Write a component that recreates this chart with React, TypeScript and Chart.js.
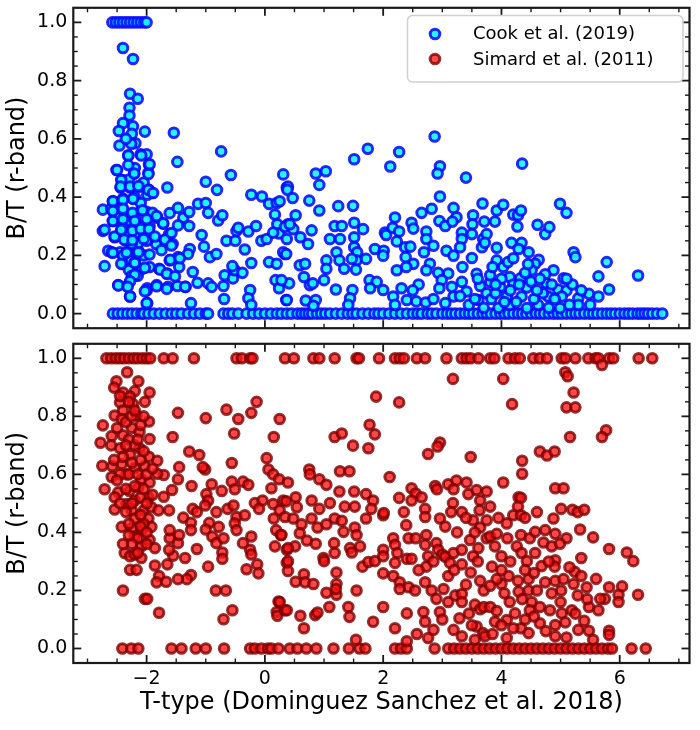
import { useEffect, useRef } from 'react';
import { Chart, registerables } from 'chart.js';

Chart.register(...registerables);

const FONT = '"DejaVu Sans", sans-serif';

// axis ranges / ticks
const xRange = [-3.24, 7.18];
const yRange = [-0.05, 1.05];
const xTickValues = [-2, 0, 2, 4, 6];
const xTickLabels = ['\u22122', '0', '2', '4', '6'];
const yTickValues = [0, 0.2, 0.4, 0.6, 0.8, 1.0];
const yTickLabels = ['0.0', '0.2', '0.4', '0.6', '0.8', '1.0'];

// ---- Cook et al. (2019): T-type values where B/T sits at 1 or 0
const cookOneT = [-2.58, -2.52, -2.46, -2.4, -2.34, -2.28, -2.22, -2.16, -2.1, -2.04, -2.0];
const cookZeroT = [
  -2.57, -2.49, -2.41, -2.33, -2.25, -2.17, -2.09, -2.05, -1.97, -1.88, -1.78, -1.68, -1.58, -1.5, -1.41,
  -1.3, -1.2, -1.1, -1.0, -0.96, -0.7, -0.62, -0.55, -0.45, -0.31, -0.2, -0.1, 0.0, 0.1, 0.2, 0.28, 0.37,
  0.45, 0.55, 0.62, 0.68, 0.74, 0.8, 0.88, 0.95, 1.02, 1.1, 1.2, 1.3, 1.4, 1.48, 1.55, 1.65, 1.75, 1.85,
  1.92, 2.0, 2.1, 2.2, 2.3, 2.4, 2.5, 2.58, 2.65, 2.75, 2.82, 2.9, 3.0, 3.08, 3.15, 3.22, 3.3, 3.38, 3.45,
  3.52, 3.6, 3.68, 3.75, 3.82, 3.9, 3.98, 4.05, 4.12, 4.2, 4.28, 4.35, 4.42, 4.5, 4.58, 4.65, 4.72, 4.8,
  4.88, 4.95, 5.02, 5.1, 5.18, 5.25, 5.32, 5.4, 5.48, 5.55, 5.62, 5.7, 5.78, 5.85, 5.92, 6.0, 6.08, 6.15,
  6.22, 6.3, 6.36, 6.42, 6.48, 6.55, 6.63, 6.72,
];
// [T-type, B/T]
const cookEarly = [
  [-2.4, 0.912], [-2.23, 0.874], [-2.28, 0.755], [-2.15, 0.738], [-2.29, 0.707], [-2.29, 0.68], [-2.4, 0.654],
  [-2.47, 0.627], [-2.23, 0.643], [-2.25, 0.617], [-2.03, 0.625], [-2.46, 0.577], [-2.19, 0.585], [-2.26, 0.583],
  [-1.54, 0.621], [-0.74, 0.557], [-1.48, 0.521], [-0.575, 0.476], [-1.0, 0.453], [-0.81, 0.425], [-1.65, 0.433],
  [-2.51, 0.493], [-2.31, 0.543], [-2.1, 0.547], [-2.0, 0.547], [-1.96, 0.512], [-1.97, 0.484], [-2.21, 0.481],
  [-2.41, 0.459], [-2.44, 0.433], [-2.28, 0.433], [-2.11, 0.436], [-1.96, 0.425], [-1.92, 0.414], [-1.99, 0.408],
  [-2.23, 0.395], [-2.4, 0.395], [-2.57, 0.386], [-2.74, 0.357], [-2.57, 0.352], [-2.41, 0.363], [-2.27, 0.34],
  [-2.09, 0.357], [-1.92, 0.34], [-1.82, 0.329], [-1.72, 0.309], [-1.61, 0.345], [-1.47, 0.363], [-1.38, 0.329],
  [-1.28, 0.349], [-1.28, 0.301], [-1.47, 0.303], [-1.62, 0.273], [-1.56, 0.239], [-1.72, 0.25], [-1.84, 0.239],
  [-1.96, 0.282], [-1.97, 0.256], [-2.07, 0.262], [-2.2, 0.273], [-2.43, 0.284], [-2.57, 0.318], [-2.74, 0.284],
  [-2.54, 0.262], [-2.65, 0.216], [-2.59, 0.211], [-2.45, 0.211], [-2.33, 0.211], [-2.14, 0.216], [-2.28, 0.183],
  [-2.4, 0.171], [-2.71, 0.163], [-2.2, 0.176], [-2.08, 0.154], [-1.95, 0.16], [-1.79, 0.154], [-1.61, 0.183],
  [-1.45, 0.16], [-1.47, 0.194], [-1.27, 0.222], [-1.3, 0.205], [-1.07, 0.27], [-1.03, 0.23], [-0.93, 0.194],
  [-0.82, 0.205], [-1.22, 0.143], [-1.65, 0.138], [-1.83, 0.098], [-1.99, 0.087], [-2.28, 0.059], [-2.48, 0.098],
  [-2.33, 0.095], [-2.18, 0.132], [-1.99, 0.036], [-1.64, 0.092], [-1.48, 0.095], [-1.34, 0.092], [-1.14, 0.106],
  [-0.96, 0.104], [-0.9, 0.092], [-1.25, 0.036], [-0.7, 0.095], [-0.68, 0.132], [-0.54, 0.121], [-0.51, 0.149],
  [-0.55, 0.163], [-0.38, 0.14], [-0.23, 0.174], [-0.25, 0.081], [-0.28, 0.053], [-0.69, 0.05], [-0.23, 0.03],
  [-0.65, 0.25], [-0.5, 0.25], [-0.48, 0.284], [-0.45, 0.295], [-0.34, 0.22], [-0.28, 0.282], [-0.15, 0.301],
  [-0.23, 0.408], [-0.05, 0.402], [-0.06, 0.25], [0.03, 0.256], [0.07, 0.177], [0.2, 0.171], [0.18, 0.115],
  [0.24, 0.087], [0.36, 0.047], [0.31, 0.478], [0.37, 0.433], [0.07, 0.377], [0.2, 0.38], [0.25, 0.386],
  [0.17, 0.34], [0.21, 0.307], [0.24, 0.275], [0.14, 0.278], [0.39, 0.307], [0.34, 0.205], [-1.13, 0.377],
  [-1.0, 0.38], [-0.96, 0.346], [-0.79, 0.32], [-0.72, 0.338], [-2.0, 0.079], [-2.35, 0.6], [-2.2, 0.5],
  [-2.05, 0.45], [-2.3, 0.46], [-2.4, 0.3], [-2.3, 0.32], [-2.2, 0.33], [-2.1, 0.3], [-2.0, 0.25], [-2.15, 0.24],
  [-2.25, 0.24], [-2.35, 0.25], [-2.05, 0.2], [-2.3, 0.15], [-2.15, 0.13], [-2.5, 0.33], [-2.6, 0.36],
  [-2.2, 0.4], [-2.1, 0.38], [-2.0, 0.35], [-1.95, 0.3], [-2.25, 0.13], [-2.4, 0.2],
  [-2.31, 0.543], [-2.09, 0.543], [-1.95, 0.513], [-2.31, 0.51], [-2.5, 0.493], [-2.21, 0.481], [-1.97, 0.479],
  [-2.43, 0.459], [-2.44, 0.436], [-2.28, 0.436], [-2.14, 0.438], [-1.97, 0.425], [-1.89, 0.414], [-2.23, 0.394],
  [-2.57, 0.386], [-2.4, 0.391], [-2.57, 0.352], [-2.4, 0.36], [-2.24, 0.346], [-2.07, 0.355], [-1.9, 0.346],
  [-2.57, 0.318], [-2.4, 0.324], [-2.2, 0.318], [-2.0, 0.324], [-1.83, 0.335], [-1.72, 0.31], [-2.71, 0.288],
  [-2.54, 0.265], [-2.43, 0.288], [-2.24, 0.284], [-2.1, 0.29], [-1.96, 0.29], [-2.38, 0.254], [-2.24, 0.252],
  [-2.05, 0.256], [-1.86, 0.265], [-1.69, 0.254], [-1.58, 0.277], [-2.57, 0.209], [-2.34, 0.209], [-2.14, 0.211],
  [-1.95, 0.203], [-1.75, 0.218], [-1.58, 0.234], [-2.43, 0.171], [-2.2, 0.174], [-2.03, 0.157], [-1.77, 0.151],
  [-1.6, 0.185], [-1.44, 0.19], [-1.66, 0.137], [-1.52, 0.128], [-2.2, 0.133], [-2.28, 0.111], [-2.48, 0.097],
  [-2.32, 0.092], [-2.03, 0.077], [-1.83, 0.094], [-1.66, 0.085], [-1.35, 0.092], [-2.0, 0.036], [-2.28, 0.059],
];
const cookMid = [
  [0.39, 0.436], [0.38, 0.425], [0.47, 0.397], [0.75, 0.388], [0.86, 0.481], [1.03, 0.489], [0.92, 0.442],
  [0.92, 0.354], [1.24, 0.369], [1.49, 0.37], [1.51, 0.53], [1.74, 0.566], [2.27, 0.555], [2.12, 0.505],
  [2.87, 0.608], [2.96, 0.506], [2.92, 0.481], [2.96, 0.402], [3.4, 0.467], [3.68, 0.378], [0.52, 0.338],
  [0.34, 0.298], [0.48, 0.29], [0.42, 0.307], [0.6, 0.262], [0.73, 0.239], [0.79, 0.286], [0.37, 0.256],
  [0.31, 0.211], [0.36, 0.205], [0.59, 0.166], [0.68, 0.171], [0.66, 0.126], [0.41, 0.104], [0.28, 0.115],
  [0.76, 0.098], [0.81, 0.104], [0.37, 0.047], [0.69, 0.045], [0.86, 0.047], [0.82, 0.027], [1.0, 0.115],
  [1.04, 0.183], [1.04, 0.154], [1.21, 0.211], [1.26, 0.183], [1.34, 0.154], [1.1, 0.256], [1.27, 0.256],
  [1.18, 0.301], [1.3, 0.301], [1.51, 0.312], [1.51, 0.262], [1.66, 0.29], [1.51, 0.228], [1.56, 0.211],
  [1.55, 0.183], [1.47, 0.188], [1.71, 0.188], [1.54, 0.151], [1.2, 0.083], [1.48, 0.081], [1.44, 0.053],
  [1.41, 0.03], [1.77, 0.115], [1.89, 0.109], [1.78, 0.087], [2.0, 0.081], [2.17, 0.059], [2.2, 0.03],
  [2.4, 0.047], [2.56, 0.042], [2.72, 0.038], [1.86, 0.222], [2.01, 0.216], [2.0, 0.199], [2.03, 0.278],
  [2.05, 0.27], [2.2, 0.33], [2.16, 0.295], [2.27, 0.282], [2.23, 0.248], [2.37, 0.228], [2.46, 0.23],
  [2.38, 0.194], [2.51, 0.171], [2.23, 0.149], [2.31, 0.087], [2.39, 0.16], [2.48, 0.312], [2.51, 0.292],
  [2.65, 0.346], [2.82, 0.36], [2.73, 0.282], [2.73, 0.256], [2.69, 0.211], [2.79, 0.171], [2.73, 0.149],
  [2.85, 0.233], [2.95, 0.318], [3.05, 0.301], [3.19, 0.363], [3.24, 0.331], [3.17, 0.316], [3.33, 0.278],
  [3.33, 0.256], [3.52, 0.338], [3.51, 0.307], [3.5, 0.273], [3.07, 0.216], [3.19, 0.199], [3.3, 0.228],
  [3.5, 0.191], [3.34, 0.16], [3.1, 0.138], [2.93, 0.14], [2.99, 0.115], [2.95, 0.087], [3.16, 0.092],
  [3.33, 0.109], [3.58, 0.137], [3.64, 0.095], [3.41, 0.076], [3.19, 0.059], [3.05, 0.036], [3.61, 0.047],
  [3.69, 0.256], [3.71, 0.316], [3.67, 0.228], [3.81, 0.109], [3.75, 0.07], [3.45, 0.03], [3.3, 0.06],
  [2.85, 0.05], [2.6, 0.1], [2.5, 0.08], [3.6, 0.12], [3.55, 0.05], [3.7, 0.02],
];
const cookLate = [
  [4.35, 0.515], [3.92, 0.354], [4.03, 0.374], [3.89, 0.316], [4.2, 0.34], [4.28, 0.338], [4.33, 0.354],
  [4.27, 0.299], [4.99, 0.377], [5.1, 0.346], [4.61, 0.305], [4.74, 0.273], [4.81, 0.297], [3.75, 0.273],
  [3.72, 0.243], [3.92, 0.226], [4.17, 0.243], [4.34, 0.243], [4.46, 0.211], [4.29, 0.222], [5.22, 0.211],
  [5.25, 0.194], [5.78, 0.177], [5.64, 0.128], [6.31, 0.131], [5.82, 0.083], [5.48, 0.068], [5.64, 0.059],
  [5.3, 0.053], [3.92, 0.183], [4.03, 0.16], [4.11, 0.177], [4.63, 0.185], [4.57, 0.171], [4.51, 0.149],
  [4.88, 0.149], [5.05, 0.121], [4.74, 0.135], [4.32, 0.121], [4.14, 0.126], [3.81, 0.132], [3.98, 0.092],
  [4.43, 0.09], [4.76, 0.104], [4.96, 0.083], [5.1, 0.079], [3.83, 0.05], [4.14, 0.03], [4.43, 0.019],
  [4.62, 0.03], [4.99, 0.019], [4.09, 0.059], [4.34, 0.059], [4.79, 0.059], [5.02, 0.059], [3.9, 0.07],
  [4.2, 0.1], [4.5, 0.11], [4.7, 0.07], [4.85, 0.1], [5.2, 0.1], [5.3, 0.03], [4.25, 0.04], [4.55, 0.05],
  [3.95, 0.02], [4.8, 0.02], [5.15, 0.03], [4.4, 0.14], [4.0, 0.12], [3.9, 0.1], [4.15, 0.08], [4.3, 0.1],
  [4.65, 0.12], [4.9, 0.05], [5.1, 0.12], [5.35, 0.08], [5.5, 0.03], [4.05, 0.04], [4.6, 0.08], [3.85, 0.16],
  [4.2, 0.19], [4.45, 0.17],
];

// ---- Simard et al. (2011)
const simardOneT = [
  -2.68, -2.6, -2.52, -2.45, -2.38, -2.3, -2.22, -2.15, -2.07, -2.0, -1.94, -1.71, -1.56, -1.2, -0.48, -0.39,
  -0.25, -0.21, 0.34, 0.49, 0.82, 0.92, 1.18, 1.55, 1.59, 1.93, 2.2, 2.28, 2.35, 2.57, 2.71, 3.07, 3.33, 3.41,
  3.48, 3.61, 3.81, 3.88, 4.12, 4.23, 4.31, 4.54, 4.65, 4.77, 5.02, 5.08, 5.25, 5.47, 5.59, 5.64, 5.82, 5.89,
  6.32, 6.55,
];
const simardZeroT = [
  -2.41, -2.26, -2.14, -1.58, -1.41, -1.17, -1.0, -0.69, -0.25, -0.17, -0.06, 0.05, 0.11, 0.23, 0.42, 0.55,
  0.7, 0.87, 1.16, 1.42, 1.6, 1.7, 2.2, 2.3, 2.4, 2.87, 3.1, 3.2, 3.3, 3.4, 3.5, 3.6, 3.7, 3.8, 3.9, 4.0, 4.1,
  4.2, 4.3, 4.4, 4.5, 4.6, 4.7, 4.8, 4.9, 5.0, 5.1, 5.2, 5.3, 5.4, 5.5, 5.6, 5.7, 5.8, 5.87, 6.2, 6.44,
];
const simardEarly = [
  [-2.33, 0.952], [-2.51, 0.921], [-2.55, 0.899], [-2.14, 0.921], [-2.2, 0.887], [-2.4, 0.882], [-2.28, 0.868],
  [-1.95, 0.882], [-2.03, 0.85], [-2.23, 0.842], [-2.45, 0.848], [-2.4, 0.82], [-2.17, 0.803], [-2.54, 0.803],
  [-2.42, 0.791], [-1.96, 0.782], [-2.74, 0.769], [-2.25, 0.76], [-2.59, 0.732], [-2.4, 0.735], [-2.12, 0.746],
  [-1.95, 0.722], [-2.78, 0.709], [-2.45, 0.69], [-2.28, 0.667], [-2.12, 0.69], [-1.96, 0.661], [-1.82, 0.647],
  [-2.42, 0.636], [-2.75, 0.63], [-2.58, 0.628], [-2.2, 0.622], [-2.03, 0.628], [-2.59, 0.591], [-2.34, 0.6],
  [-2.09, 0.583], [-1.95, 0.572], [-2.71, 0.549], [-2.48, 0.538], [-2.29, 0.543], [-2.14, 0.555], [-1.97, 0.521],
  [-2.54, 0.521], [-2.34, 0.498], [-2.2, 0.51], [-2.54, 0.479], [-2.25, 0.476], [-2.05, 0.476], [-1.92, 0.487],
  [-2.2, 0.448], [-1.97, 0.448], [-2.42, 0.419], [-2.25, 0.414], [-2.08, 0.408], [-1.92, 0.419], [-2.2, 0.386],
  [-2.09, 0.352], [-1.95, 0.374], [-2.37, 0.329], [-2.28, 0.318], [-2.09, 0.312], [-2.2, 0.324], [-1.86, 0.346],
  [-2.28, 0.271], [-2.17, 0.271], [-2.4, 0.2], [-2.03, 0.171], [-1.99, 0.171], [-1.79, 0.123], [-1.86, 0.286],
  [-1.79, 0.25], [-1.83, 0.228], [-1.67, 0.23], [-1.65, 0.29], [-1.55, 0.32], [-1.62, 0.34], [-1.61, 0.38],
  [-1.47, 0.363], [-1.45, 0.391], [-1.61, 0.408], [-1.8, 0.476], [-1.62, 0.476], [-1.71, 0.523], [-1.57, 0.546],
  [-1.71, 0.598], [-1.82, 0.602], [-1.47, 0.583], [-1.56, 0.729], [-1.47, 0.812], [-1.28, 0.679], [-1.11, 0.667],
  [-1.45, 0.625], [-1.24, 0.56], [-1.22, 0.481], [-1.15, 0.47], [-1.38, 0.451], [-1.25, 0.433], [-1.25, 0.408],
  [-1.15, 0.343], [-1.35, 0.312], [-1.25, 0.253], [-1.32, 0.239], [-1.47, 0.239], [-1.0, 0.794], [-1.01, 0.617],
  [-1.05, 0.625], [-0.9, 0.566], [-0.73, 0.543], [-0.99, 0.532], [-0.96, 0.51], [-1.01, 0.493], [-0.82, 0.47],
  [-0.94, 0.433], [-1.0, 0.41], [-0.89, 0.386], [-0.78, 0.419], [-0.82, 0.363], [-0.7, 0.38], [-0.72, 0.331],
  [-0.72, 0.309], [-0.96, 0.282], [-0.83, 0.2], [-0.66, 0.2], [-0.55, 0.132], [-0.7, 0.101], [-0.65, 0.823],
  [-0.45, 0.791], [-0.23, 0.812], [-0.14, 0.85], [-0.52, 0.741], [-0.56, 0.639], [-0.56, 0.575], [-0.51, 0.549],
  [-0.37, 0.575], [-0.28, 0.564], [-0.63, 0.481], [-0.53, 0.493], [-0.48, 0.453], [-0.51, 0.431], [-0.34, 0.459],
  [-0.48, 0.408], [-0.37, 0.363], [-0.23, 0.386], [-0.25, 0.34], [-0.23, 0.324], [-0.31, 0.273], [-0.13, 0.29],
  [-0.11, 0.259], [-0.17, 0.501], [-0.04, 0.51], [-0.1, 0.481], [0.03, 0.656], [0.06, 0.617], [0.14, 0.6],
  [0.24, 0.583], [0.11, 0.552], [0.15, 0.729], [0.25, 0.791], [0.14, 0.498], [0.25, 0.476], [0.31, 0.51],
  [0.15, 0.448], [0.19, 0.408], [0.27, 0.391], [0.17, 0.352], [0.37, 0.34], [0.37, 0.295], [0.23, 0.162],
  [0.2, 0.126], [0.21, 0.113], [0.34, 0.132], [-2.3, 0.72], [-2.2, 0.7], [-2.1, 0.65], [-2.3, 0.6],
  [-2.15, 0.6], [-2.35, 0.55], [-2.1, 0.52], [-2.25, 0.5], [-2.05, 0.43], [-2.3, 0.43], [-2.15, 0.38],
  [-2.0, 0.36], [-2.25, 0.36], [-2.05, 0.55], [-2.45, 0.6], [-2.35, 0.78], [-2.25, 0.8], [-2.1, 0.77],
  [-2.45, 0.87], [-2.3, 0.85], [-2.2, 0.82], [-2.35, 0.7], [-2.15, 0.72], [-2.5, 0.76], [-2.05, 0.8],
  [-2.4, 0.66], [-2.25, 0.64], [-2.05, 0.68], [-2.5, 0.58], [-2.2, 0.56], [-2.0, 0.6], [-2.45, 0.5],
  [-2.1, 0.46], [-2.35, 0.47], [-2.0, 0.5], [-2.3, 0.39], [-2.1, 0.42], [-2.4, 0.36], [-2.15, 0.33],
  [-2.0, 0.4], [-1.9, 0.53], [-1.9, 0.62], [-2.55, 0.65], [-2.6, 0.7],
];
const simardMid = [
  [3.18, 0.929], [1.88, 0.868], [2.27, 0.848], [1.77, 0.771], [1.86, 0.738], [1.18, 0.729], [1.3, 0.741],
  [1.49, 0.699], [1.75, 0.69], [2.96, 0.71], [2.92, 0.696], [2.76, 0.67], [3.48, 0.66], [0.75, 0.617],
  [0.76, 0.6], [1.27, 0.611], [1.43, 0.611], [2.11, 0.591], [0.92, 0.583], [1.04, 0.564], [0.39, 0.572],
  [1.26, 0.541], [1.51, 0.541], [1.71, 0.532], [0.52, 0.521], [0.79, 0.51], [0.36, 0.507], [1.1, 0.501],
  [1.35, 0.489], [1.52, 0.489], [1.83, 0.51], [1.8, 0.481], [0.92, 0.481], [0.54, 0.487], [2.27, 0.519],
  [2.48, 0.552], [2.55, 0.534], [2.65, 0.521], [2.88, 0.56], [2.91, 0.549], [2.48, 0.51], [2.35, 0.47],
  [2.71, 0.481], [2.71, 0.453], [2.96, 0.448], [3.1, 0.566], [3.24, 0.579], [3.41, 0.572], [3.19, 0.549],
  [3.44, 0.532], [3.58, 0.546], [3.64, 0.51], [3.63, 0.476], [3.18, 0.501], [3.33, 0.47], [3.52, 0.442],
  [3.64, 0.417], [0.34, 0.453], [0.48, 0.448], [0.62, 0.428], [0.79, 0.448], [0.89, 0.417], [1.04, 0.428],
  [1.18, 0.448], [1.3, 0.44], [1.33, 0.402], [1.52, 0.417], [1.55, 0.391], [1.71, 0.448], [2.0, 0.459],
  [2.01, 0.467], [0.28, 0.391], [0.59, 0.397], [0.71, 0.372], [0.86, 0.361], [0.51, 0.352], [0.39, 0.346],
  [1.17, 0.363], [1.18, 0.329], [1.44, 0.346], [1.47, 0.331], [1.61, 0.352], [0.99, 0.312], [1.0, 0.301],
  [0.39, 0.301], [0.39, 0.267], [1.65, 0.282], [1.75, 0.298], [1.86, 0.301], [2.0, 0.34], [2.0, 0.318],
  [2.17, 0.38], [2.2, 0.357], [2.24, 0.329], [2.2, 0.295], [2.39, 0.425], [2.43, 0.38], [2.4, 0.309],
  [2.48, 0.309], [2.73, 0.391], [2.71, 0.357], [2.9, 0.363], [2.93, 0.34], [2.76, 0.318], [2.73, 0.282],
  [3.0, 0.324], [3.05, 0.316], [3.19, 0.329], [3.33, 0.29], [3.13, 0.295], [3.1, 0.25], [3.33, 0.34],
  [3.47, 0.374], [3.61, 0.346], [3.52, 0.318], [3.75, 0.38], [3.48, 0.262], [3.64, 0.233], [2.0, 0.259],
  [2.17, 0.25], [2.28, 0.228], [2.43, 0.211], [2.54, 0.2], [2.28, 0.205], [2.71, 0.228], [2.82, 0.2],
  [2.9, 0.171], [3.02, 0.205], [3.1, 0.16], [2.96, 0.126], [3.22, 0.183], [3.33, 0.188], [3.33, 0.16],
  [3.55, 0.151], [3.64, 0.135], [3.29, 0.104], [2.68, 0.126], [2.71, 0.092], [2.85, 0.064], [2.76, 0.036],
  [2.57, 0.05], [2.4, 0.025], [2.2, 0.07], [2.4, 0.121], [2.0, 0.143], [1.83, 0.092], [1.54, 0.03],
  [1.55, 0.2], [1.41, 0.143], [1.43, 0.109], [1.21, 0.262], [1.21, 0.222], [1.21, 0.185], [1.2, 0.205],
  [1.04, 0.192], [1.09, 0.143], [0.85, 0.115], [0.89, 0.124], [0.6, 0.113], [0.66, 0.07], [0.52, 0.23],
  [0.66, 0.256], [0.68, 0.228], [0.82, 0.222], [0.25, 0.16], [0.37, 0.132], [3.19, 0.064], [3.33, 0.042],
  [3.58, 0.076], [3.69, 0.053], [3.55, 0.03], [3.7, 0.143], [3.25, 0.4], [3.4, 0.45], [3.55, 0.4],
  [3.05, 0.42], [2.85, 0.3], [3.2, 0.27], [3.4, 0.22], [3.6, 0.3], [3.0, 0.1], [3.45, 0.12], [2.6, 0.27],
  [2.55, 0.38], [3.15, 0.47], [3.5, 0.08], [3.7, 0.2],
];
const simardLate = [
  [5.7, 0.977], [5.08, 0.952], [5.12, 0.938], [4.03, 0.929], [5.22, 0.882], [4.18, 0.842], [5.1, 0.831],
  [5.25, 0.831], [5.77, 0.752], [5.7, 0.729], [5.16, 0.729], [4.65, 0.679], [4.77, 0.665], [4.9, 0.679],
  [4.35, 0.647], [4.35, 0.602], [4.03, 0.572], [4.91, 0.552], [5.05, 0.552], [3.75, 0.541], [3.81, 0.489],
  [4.29, 0.521], [4.33, 0.519], [4.28, 0.489], [4.2, 0.459], [4.33, 0.459], [4.09, 0.431], [5.01, 0.481],
  [5.2, 0.478], [5.29, 0.47], [5.4, 0.478], [4.88, 0.448], [3.75, 0.442], [5.33, 0.41], [5.55, 0.383],
  [5.82, 0.343], [6.12, 0.331], [6.23, 0.301], [5.35, 0.312], [3.81, 0.386], [3.92, 0.395], [4.33, 0.391],
  [4.48, 0.38], [4.57, 0.402], [4.74, 0.408], [4.91, 0.395], [5.1, 0.38], [4.71, 0.365], [4.85, 0.352],
  [4.99, 0.361], [4.0, 0.318], [3.89, 0.352], [4.26, 0.352], [4.34, 0.329], [4.57, 0.329], [4.43, 0.301],
  [4.68, 0.284], [4.91, 0.304], [4.9, 0.282], [3.84, 0.282], [4.12, 0.25], [4.0, 0.222], [3.92, 0.239],
  [4.28, 0.233], [4.46, 0.239], [4.74, 0.228], [4.91, 0.233], [5.05, 0.239], [5.24, 0.264], [5.22, 0.222],
  [5.44, 0.211], [5.29, 0.183], [5.01, 0.2], [4.46, 0.2], [4.29, 0.196], [3.81, 0.216], [5.82, 0.211],
  [6.04, 0.214], [6.31, 0.185], [5.98, 0.185], [5.75, 0.171], [5.67, 0.171], [5.98, 0.16], [5.48, 0.143],
  [5.64, 0.132], [3.81, 0.143], [3.92, 0.129], [4.14, 0.16], [4.23, 0.121], [4.51, 0.16], [4.48, 0.132],
  [4.65, 0.143], [4.82, 0.132], [5.02, 0.121], [5.19, 0.132], [3.89, 0.092], [4.09, 0.098], [4.33, 0.07],
  [4.46, 0.053], [4.65, 0.087], [4.91, 0.081], [5.08, 0.09], [4.91, 0.042], [5.1, 0.038], [5.3, 0.064],
  [5.4, 0.095], [5.48, 0.061], [5.55, 0.03], [5.82, 0.061], [5.82, 0.047], [4.09, 0.036], [3.72, 0.042],
  [3.95, 0.45], [4.1, 0.38], [4.4, 0.45], [4.6, 0.47], [4.15, 0.3], [4.55, 0.26], [4.8, 0.3], [4.0, 0.27],
  [4.4, 0.27], [4.05, 0.19], [4.35, 0.17], [4.6, 0.2], [4.85, 0.19], [4.2, 0.07], [4.55, 0.11], [4.75, 0.06],
  [5.0, 0.16], [5.15, 0.28], [5.35, 0.25], [3.85, 0.05], [4.0, 0.08], [4.4, 0.1], [5.25, 0.12], [5.45, 0.17],
  [5.6, 0.24],
];

const cookStyle = { fill: 'rgba(20,245,255,0.92)', edge: 'rgba(10,10,255,0.88)' };
const simardStyle = { fill: 'rgba(255,20,20,0.78)', edge: 'rgba(125,0,0,0.8)' };
const MARKER_R = 4.8;
const MARKER_W = 3;

const toPoints = (one: number[], zero: number[], rest: number[][]) => [
  ...one.map((t) => ({ x: t, y: 1 })),
  ...zero.map((t) => ({ x: t, y: 0 })),
  ...rest.map(([t, b]) => ({ x: t, y: b })),
];

const drawMarker = (ctx: CanvasRenderingContext2D, x: number, y: number, s: { fill: string; edge: string }) => {
  ctx.beginPath();
  ctx.arc(x, y, MARKER_R, 0, Math.PI * 2);
  ctx.fillStyle = s.fill;
  ctx.fill();
  ctx.lineWidth = MARKER_W;
  ctx.strokeStyle = s.edge;
  ctx.stroke();
};

// frame, inward ticks, labels and legend, matplotlib style
const framePlugin = (showXLabels: boolean, showLegend: boolean) => ({
  id: 'frame',
  afterDraw(chart: Chart) {
    const { ctx, chartArea: a } = chart;
    const xs = chart.scales.x;
    const ys = chart.scales.y;
    const seg = (x1: number, y1: number, x2: number, y2: number) => {
      ctx.beginPath();
      ctx.moveTo(x1, y1);
      ctx.lineTo(x2, y2);
      ctx.stroke();
    };
    ctx.save();
    ctx.strokeStyle = '#1a1a1a';
    for (let i = -6; i <= 14; i++) {
      const px = xs.getPixelForValue(i * 0.5);
      if (px < a.left + 1 || px > a.right - 1) continue;
      const major = i % 4 === 0;
      const len = major ? 8 : 4.5;
      ctx.lineWidth = major ? 1.8 : 1.4;
      seg(px, a.bottom, px, a.bottom - len);
      seg(px, a.top, px, a.top + len);
    }
    for (let i = -1; i <= 21; i++) {
      const py = ys.getPixelForValue(i * 0.05);
      if (py < a.top + 1 || py > a.bottom - 1) continue;
      const major = i % 4 === 0;
      const len = major ? 8 : 4.5;
      ctx.lineWidth = major ? 1.8 : 1.4;
      seg(a.left, py, a.left + len, py);
      seg(a.right, py, a.right - len, py);
    }
    ctx.lineWidth = 2.2;
    ctx.strokeRect(a.left, a.top, a.right - a.left, a.bottom - a.top);

    ctx.fillStyle = '#000';
    ctx.font = `19px ${FONT}`;
    ctx.textAlign = 'right';
    ctx.textBaseline = 'middle';
    yTickValues.forEach((v, i) => ctx.fillText(yTickLabels[i], a.left - 6, ys.getPixelForValue(v)));

    if (showXLabels) {
      ctx.textAlign = 'center';
      xTickValues.forEach((v, i) => ctx.fillText(xTickLabels[i], xs.getPixelForValue(v), a.bottom + 16));
      ctx.font = `24px ${FONT}`;
      ctx.fillText('T-type (Dominguez Sanchez et al. 2018)', (a.left + a.right) / 2, a.bottom + 40);
    }

    ctx.save();
    ctx.translate(18, (a.top + a.bottom) / 2);
    ctx.rotate(-Math.PI / 2);
    ctx.textAlign = 'center';
    ctx.textBaseline = 'middle';
    ctx.font = `24px ${FONT}`;
    ctx.fillText('B/T (r-band)', 0, 0);
    ctx.restore();

    if (showLegend) {
      ctx.beginPath();
      ctx.roundRect(407.5, 15.5, 275.5, 66.5, 5);
      ctx.fillStyle = 'rgba(255,255,255,0.8)';
      ctx.fill();
      ctx.lineWidth = 1.5;
      ctx.strokeStyle = '#d0d0d0';
      ctx.stroke();
      drawMarker(ctx, 435, 34, cookStyle);
      drawMarker(ctx, 435, 59, simardStyle);
      ctx.fillStyle = '#000';
      ctx.font = `18px ${FONT}`;
      ctx.textAlign = 'left';
      ctx.textBaseline = 'middle';
      ctx.fillText('Cook et al. (2019)', 473, 34);
      ctx.fillText('Simard et al. (2011)', 473, 60);
    }
    ctx.restore();
  },
});

const makeChart = (
  canvas: HTMLCanvasElement,
  label: string,
  data: { x: number; y: number }[],
  style: { fill: string; edge: string },
  padding: { left: number; right: number; top: number; bottom: number },
  showXLabels: boolean,
  showLegend: boolean
) =>
  new Chart(canvas, {
    type: 'scatter',
    data: {
      datasets: [
        {
          label,
          data,
          backgroundColor: style.fill,
          borderColor: style.edge,
          borderWidth: MARKER_W,
          pointRadius: MARKER_R,
          pointHoverRadius: MARKER_R,
        },
      ],
    },
    options: {
      responsive: false,
      animation: false,
      layout: { padding },
      plugins: { legend: { display: false }, tooltip: { enabled: false } },
      scales: {
        x: { type: 'linear', min: xRange[0], max: xRange[1], display: false },
        y: { type: 'linear', min: yRange[0], max: yRange[1], display: false },
      },
    },
    plugins: [framePlugin(showXLabels, showLegend)],
  });

const App = () => {
  const topRef = useRef<HTMLCanvasElement | null>(null);
  const bottomRef = useRef<HTMLCanvasElement | null>(null);

  useEffect(() => {
    if (!topRef.current || !bottomRef.current) return;
    const top = makeChart(
      topRef.current,
      'Cook et al. (2019)',
      toPoints(cookOneT, cookZeroT, [...cookEarly, ...cookMid, ...cookLate]),
      cookStyle,
      { left: 73.3, right: 10.5, top: 6, bottom: 5 },
      false,
      true
    );
    const bottom = makeChart(
      bottomRef.current,
      'Simard et al. (2011)',
      toPoints(simardOneT, simardZeroT, [...simardEarly, ...simardMid, ...simardLate]),
      simardStyle,
      { left: 73.3, right: 10.5, top: 2, bottom: 67 },
      true,
      false
    );
    return () => {
      top.destroy();
      bottom.destroy();
    };
  }, []);

  return (
    <div style={{ position: 'absolute', left: 0, top: 0, width: 700, height: 730, background: '#fff' }}>
      <canvas ref={topRef} width={700} height={336} style={{ position: 'absolute', left: 0, top: 0 }} />
      <canvas ref={bottomRef} width={700} height={394} style={{ position: 'absolute', left: 0, top: 336 }} />
    </div>
  );
};

export default App;
